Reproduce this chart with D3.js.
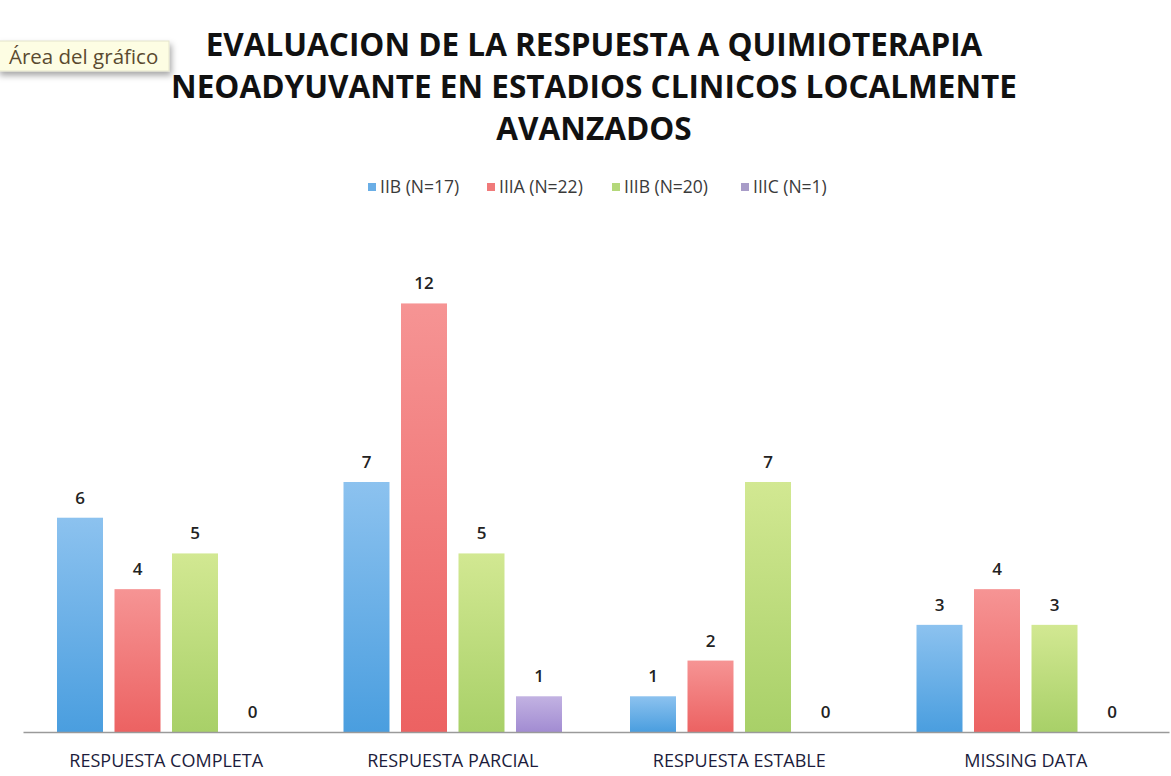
<!DOCTYPE html>
<html lang="es">
<head>
<meta charset="UTF-8">
<title>Evaluacion respuesta quimioterapia</title>
<script src="https://cdn.jsdelivr.net/npm/d3@7"></script>
<style>
body{margin:0;background:#fff;}
svg{display:block;font-family:"Open Sans",Lato,sans-serif;}
</style>
</head>
<body>
<script>
// datos del grafico
var categorias = ["RESPUESTA COMPLETA","RESPUESTA PARCIAL","RESPUESTA ESTABLE","MISSING DATA"];
var series = ["IIB (N=17)","IIIA (N=22)","IIIB (N=20)","IIIC (N=1)"];
var iib  = [6,7,1,3];
var iiia = [4,12,2,4];
var iiib = [5,5,7,3];
var iiic = [0,1,0,0];
var valores = [iib,iiia,iiib,iiic];
var colores = [["#8cc2ef","#4a9edf"],["#f69494","#ec6262"],["#d2e892","#a8d068"],["#c2b2e2","#a28cd2"]];
var legendColor = ["#6aaee6","#f07a7a","#b4d87a","#a89cc8"];
var titulo = ["EVALUACION DE LA RESPUESTA A QUIMIOTERAPIA","NEOADYUVANTE EN ESTADIOS CLINICOS LOCALMENTE","AVANZADOS"];

var width = 1171, height = 776;
var svg = d3.select("body").append("svg").attr("width",width).attr("height",height);

// degradados de las barras
var defs = svg.append("defs");
colores.forEach(function(c,i){
	var g = defs.append("linearGradient").attr("id","grad"+i).attr("x1",0).attr("y1",0).attr("x2",0).attr("y2",1);
	g.append("stop").attr("offset","0%").attr("stop-color",c[0]);
	g.append("stop").attr("offset","100%").attr("stop-color",c[1]);
});
var sh = defs.append("filter").attr("id","sombra").attr("x","-10%").attr("y","-20%").attr("width","130%").attr("height","180%");
sh.append("feDropShadow").attr("dx",2).attr("dy",4).attr("stdDeviation",3).attr("flood-color","#000").attr("flood-opacity",0.35);

//titulo
svg.append("g").selectAll("text").data(titulo).enter().append("text")
	.attr("x",594).attr("y",function(d,i){return 56+i*42;})
	.attr("text-anchor","middle").attr("font-size",31.5).attr("font-weight","bold").attr("fill","#111")
	.text(function(d){return d;});

//escalas
var x0 = d3.scaleBand().domain(categorias).range([23,1169]).paddingInner(0).paddingOuter(0);
var x1 = d3.scaleBand().domain(d3.range(series.length)).range([34,x0.bandwidth()-34]).paddingInner(0.2);
var y = d3.scaleLinear().domain([0,14]).range([732,232]);

//barras
var grupos = svg.append("g").selectAll("g").data(categorias).enter().append("g")
	.attr("transform",function(d){return "translate("+x0(d)+",0)";});
grupos.selectAll("rect").data(function(d,ci){return valores.map(function(v,si){return {s:si,v:v[ci]};});})
	.enter().append("rect")
	.attr("x",function(d){return x1(d.s);}).attr("width",x1.bandwidth())
	.attr("y",function(d){return y(d.v);}).attr("height",function(d){return y(0)-y(d.v);})
	.attr("fill",function(d){return "url(#grad"+d.s+")";});
grupos.selectAll("text").data(function(d,ci){return valores.map(function(v,si){return {s:si,v:v[ci]};});})
	.enter().append("text")
	.attr("x",function(d){return x1(d.s)+x1.bandwidth()/2;}).attr("y",function(d){return y(d.v)-14;})
	.attr("text-anchor","middle").attr("font-size",17).attr("font-weight",600).attr("fill","#222")
	.text(function(d){return d.v;});

//eje x
var xAxis = d3.axisBottom(x0).tickSize(0).tickPadding(22);
var gx = svg.append("g").attr("transform","translate(0,732)").call(xAxis);
gx.select(".domain").attr("stroke","#9a9a9a").attr("stroke-width",1.5);
gx.selectAll("text").attr("font-size",18).attr("fill","#1c1c3c").attr("font-family","'Open Sans',Lato,sans-serif");

//leyenda
var legX = [368,487,612,741];
var leg = svg.append("g").selectAll("g").data(series).enter().append("g")
	.attr("transform",function(d,i){return "translate("+legX[i]+",187)";});
leg.append("rect").attr("x",0).attr("y",-4).attr("width",8).attr("height",8)
	.attr("fill",function(d,i){return legendColor[i];});
leg.append("text").attr("x",12).attr("y",6).attr("font-size",17.5).attr("fill","#3a3a3a").text(function(d){return d;});

//etiqueta "Area del grafico"
var tip = svg.append("g").attr("transform","translate(0,41)");
tip.append("rect").attr("x",-2).attr("y",0).attr("width",171).attr("height",30)
	.attr("fill","#fdfde3").attr("stroke","#e4e4cc").attr("filter","url(#sombra)");
tip.append("text").attr("x",9).attr("y",23).attr("font-size",20.5).attr("fill","#5a4a30").text("Área del gráfico");
</script>
</body>
</html>
